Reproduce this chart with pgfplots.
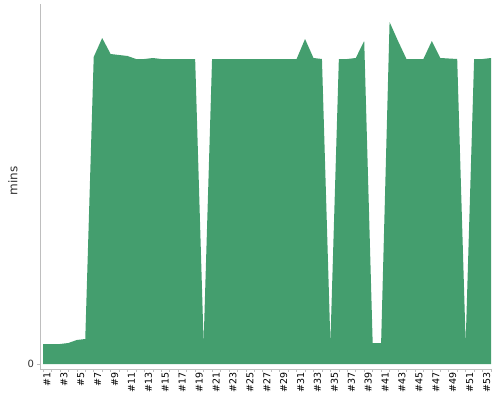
\documentclass[border=0pt]{standalone}
\usepackage{fontspec}
\setmainfont{DejaVu Sans}
\usepackage{pgfplots}
\pgfplotsset{compat=1.18}
\definecolor{areagreen}{RGB}{68,158,110}
\definecolor{axisgrey}{RGB}{190,190,190}
\definecolor{labelgrey}{RGB}{50,50,50}
\begin{document}
\begin{tikzpicture}
\begin{axis}[
  at={(0pt,0pt)}, anchor=south west,
  scale only axis,
  width=452pt, height=365pt,
  xmin=0.645, xmax=54.118,
  ymin=-5, ymax=360,
  axis lines=left,
  axis line style={-, draw=axisgrey, line width=0.8pt},
  xtick={1,...,54},
  xticklabels={\#1,,\#3,,\#5,,\#7,,\#9,,\#11,,\#13,,\#15,,\#17,,\#19,,\#21,,\#23,,\#25,,\#27,,\#29,,\#31,,\#33,,\#35,,\#37,,\#39,,\#41,,\#43,,\#45,,\#47,,\#49,,\#51,,\#53,},
  ytick={0},
  tick align=outside,
  major tick length=2.5pt,
  tick style={draw=axisgrey, line width=0.6pt},
  x tick label style={rotate=90, anchor=east, font=\fontsize{9.5}{11}\selectfont, text=black, inner sep=1pt, yshift=-4pt},
  y tick label style={font=\fontsize{10}{12}\selectfont, text=labelgrey},
  /pgf/number format/assume math mode=true,
  ylabel={mins},
  ylabel style={font=\fontsize{12}{14}\selectfont, text=labelgrey, at={(axis description cs:0,0.515)}, anchor=south, yshift=19pt},
  clip=false,
]
\addplot[fill=areagreen, draw=none] coordinates {
(1,20) (2,20) (3,20) (4,21) (5,24) (6,25) (7,307) (8,326) (9,310) (10,309)
(11,308) (12,305) (13,305) (14,306) (15,305) (16,305) (17,305) (18,305) (19,305) (20,21)
(21,305) (22,305) (23,305) (24,305) (25,305) (26,305) (27,305) (28,305) (29,305) (30,305)
(31,305) (32,325) (33,306) (34,305) (35,21) (36,305) (37,305) (38,306) (39,323) (40,21)
(41,21) (42,342) (43,323) (44,305) (45,305) (46,305) (47,323) (48,306) (49,305.5) (50,305)
(51,21) (52,305) (53,305) (54,306)
} \closedcycle;
\end{axis}
\pgfresetboundingbox
\useasboundingbox (-40pt,-31pt) rectangle (460pt,369pt);
\end{tikzpicture}
\end{document}
